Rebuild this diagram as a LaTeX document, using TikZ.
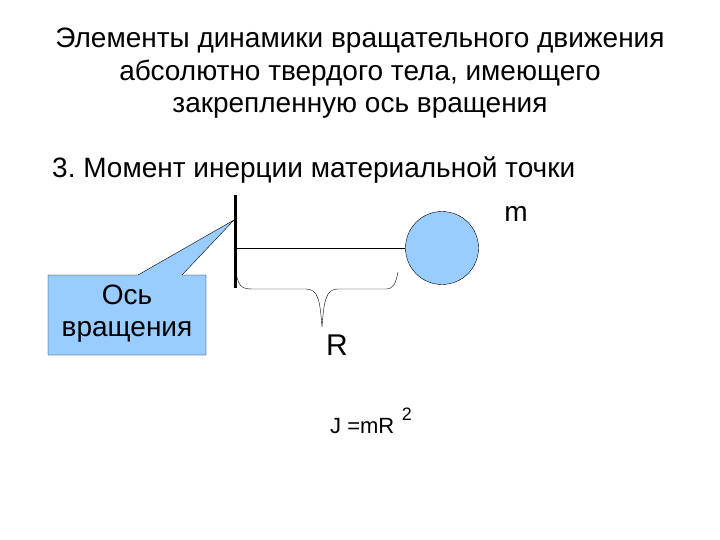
\documentclass[tikz,border=0pt]{standalone}
\usepackage{fontspec}
\setmainfont{Liberation Sans}
\usepackage{xcolor}
\definecolor{massblue}{RGB}{153,204,255}
\usetikzlibrary{positioning, calc}
\frenchspacing

\begin{document}
\begin{tikzpicture}[x=1pt, y=-1pt,
    txt/.style={inner sep=0pt, font=\fontsize{28}{33}\selectfont},
    boxtxt/.style={inner sep=0pt, align=center, font=\fontsize{28}{32}\selectfont}]
    \useasboundingbox (0,0) rectangle (720,540);

    % Title
    \node[txt, anchor=base] (title1) at (360,48) {Элементы динамики вращательного движения};
    \node[txt, anchor=base] (title2) at (360,81) {абсолютно твердого тела, имеющего};
    \node[txt, anchor=base] (title3) at (360,113) {закрепленную ось вращения};
    \node[txt, anchor=base west] (item) at (52,178) {3. Момент инерции материальной точки};

    % Axis and rod
    \coordinate (axtop) at (235,195);
    \coordinate (axbot) at (235,288);
    \coordinate (rodstart) at (235,248);
    \draw[line width=3pt] (axtop) -- (axbot);
    \node[circle, draw, fill=massblue, minimum size=73pt, inner sep=0pt] (mass) at (442,248) {};
    \draw (rodstart) -- (mass.west);
    \node[txt] (mlabel) at (516,214) {m};

    % Brace for R
    \draw (235,268) .. controls (238,285) and (240,289) .. (252,289) -- (306,289)
        .. controls (318,289) and (320,300) .. (322,327)
        .. controls (324,300) and (326,289) .. (338,289) -- (386,289)
        .. controls (394,289) and (396,282) .. (398,272);
    \node[txt, font=\fontsize{30}{34}\selectfont] (rlabel) at (337,345) {R};

    % Callout
    \coordinate (tip) at (234,220);
    \filldraw[fill=massblue, draw=black] (48,275) -- (138,275) -- (tip) -- (182,275)
        -- (206,275) -- (206,355) -- (48,355) -- cycle;
    \node[boxtxt] (oslabel) at (127,314) {Ось\\вращения};

    % Formula
    \node[txt, font=\fontsize{22}{24}\selectfont, anchor=west] (formula) at (330,426) {J =mR};
    \node[txt, font=\fontsize{18}{20}\selectfont, anchor=west] (power) at (formula.east) [yshift=12pt, xshift=7pt] {2};
\end{tikzpicture}
\end{document}
